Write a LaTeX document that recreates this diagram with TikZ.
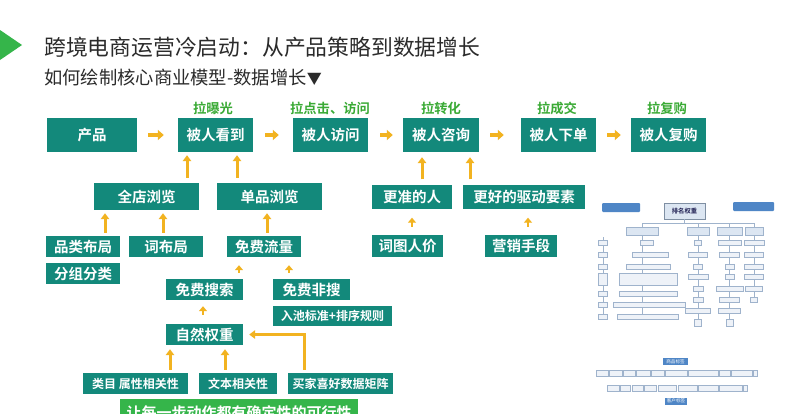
\documentclass[tikz,border=0pt]{standalone}
\usepackage{fontspec}
\setmainfont{Noto Sans CJK SC}[BoldFont={Noto Sans CJK SC Bold}]
\usetikzlibrary{arrows.meta,calc}
\definecolor{tealbox}{HTML}{13897B}
\definecolor{arrowc}{HTML}{F2B320}
\definecolor{lblgreen}{HTML}{3AAA35}
\definecolor{brightgreen}{HTML}{35B54A}
\definecolor{titlec}{HTML}{2B2B2B}
\definecolor{thblue}{HTML}{4F86C6}
\definecolor{thline}{HTML}{9FB3CC}
\definecolor{thfill}{HTML}{EEF2F8}
\definecolor{thhead}{HTML}{DCE6F2}
\tikzset{
  box/.style={fill=tealbox, text=white, inner sep=0pt, font=\bfseries\fontsize{14.5}{16}\selectfont},
  sbox/.style={fill=tealbox, text=white, inner sep=0pt, font=\bfseries\fontsize{12}{14}\selectfont},
  lbl/.style={text=lblgreen, inner sep=0pt, font=\bfseries\fontsize{13.3}{15}\selectfont},
  harrow/.style={draw=arrowc, line width=4pt, -{Triangle[length=6pt,width=10pt]}},
  varrow/.style={draw=arrowc, line width=3pt, -{Triangle[length=6pt,width=8.5pt]}},
  smarrow/.style={draw=arrowc, line width=2.8pt, -{Triangle[length=5pt,width=8pt]}},
  thb/.style={draw=thline, fill=thfill, line width=0.4pt},
  thbl/.style={fill=thblue, rounded corners=1pt},
}
\begin{document}
\begin{tikzpicture}[x=1pt,y=-1pt]
\useasboundingbox (0,0) rectangle (800,413);
\clip (0,0) rectangle (800,413);
\fill[white] (0,0) rectangle (800,413);

% title
\fill[brightgreen] (0,30) -- (22,45) -- (0,60) -- cycle;
\node[anchor=west, inner sep=0pt, text=titlec, font=\fontsize{21.8}{24}\selectfont] (title) at (44,47) {跨境电商运营冷启动：从产品策略到数据增长};
\node[anchor=west, inner sep=0pt, text=titlec, font=\fontsize{18.3}{20}\selectfont] (sub) at (44,78) {如何绘制核心商业模型-数据增长{\fontsize{15}{16}\selectfont▼}};

% top row
\node[box, minimum width=90pt, minimum height=34pt] (cp) at (92,135) {产品};
\node[box, minimum width=75pt, minimum height=34pt] (kd) at (215.5,135) {被人看到};
\node[box, minimum width=75pt, minimum height=34pt] (fw) at (330.5,135) {被人访问};
\node[box, minimum width=76pt, minimum height=34pt] (zx) at (441,135) {被人咨询};
\node[box, minimum width=75pt, minimum height=34pt] (xd) at (558.5,135) {被人下单};
\node[box, minimum width=75pt, minimum height=34pt] (fg) at (668.5,135) {被人复购};

\node[lbl] (l1) at (213,108) {拉曝光};
\node[lbl] (l2) at (330,108) {拉点击、访问};
\node[lbl] (l3) at (441,108) {拉转化};
\node[lbl] (l4) at (557,108) {拉成交};
\node[lbl] (l5) at (667,108) {拉复购};

\draw[harrow, shorten <=11pt, shorten >=14pt] (cp) -- (kd);
\draw[harrow, shorten <=12pt, shorten >=14pt] (kd) -- (fw);
\draw[harrow, shorten <=12pt, shorten >=10pt] (fw) -- (zx);
\draw[harrow, shorten <=11pt, shorten >=17pt] (zx) -- (xd);
\draw[harrow, shorten <=11pt, shorten >=10pt] (xd) -- (fg);

% second row
\node[box, minimum width=105pt, minimum height=27pt] (qd) at (146.5,196.5) {全店浏览};
\node[box, minimum width=105pt, minimum height=27pt] (dp) at (269.5,196.5) {单品浏览};
\node[box, minimum width=80pt, minimum height=24pt] (gz) at (412,196.5) {更准的人};
\node[box, minimum width=122pt, minimum height=24pt] (gh) at (524,196.5) {更好的驱动要素};

\draw[varrow, shorten <=5pt, shorten >=3pt] ([xshift=40.5pt]qd.north) -- ([xshift=40.5pt]qd.north |- kd.south);
\draw[varrow, shorten <=5pt, shorten >=3pt] ([xshift=-32.5pt]dp.north) -- ([xshift=-32.5pt]dp.north |- kd.south);
\draw[varrow, shorten <=5pt, shorten >=5pt] ([xshift=10pt]gz.north) -- ([xshift=10pt]gz.north |- zx.south);
\draw[varrow, shorten <=5pt, shorten >=5pt] ([xshift=-54pt]gh.north) -- ([xshift=-54pt]gh.north |- zx.south);

% third row
\node[box, minimum width=74pt, minimum height=21pt] (pl) at (83,246.5) {品类布局};
\node[box, minimum width=74pt, minimum height=21pt] (cb) at (166,246.5) {词布局};
\node[box, minimum width=74pt, minimum height=21pt] (fz) at (83,273.5) {分组分类};
\node[box, minimum width=74pt, minimum height=21pt] (mf) at (264,246.5) {免费流量};
\node[box, minimum width=71pt, minimum height=22pt] (ct) at (407.5,246) {词图人价};
\node[box, minimum width=72pt, minimum height=22pt] (yx) at (521,246) {营销手段};

\draw[varrow, shorten <=3pt, shorten >=3pt] ([xshift=22pt]pl.north) -- ([xshift=22pt]pl.north |- qd.south);
\draw[varrow, shorten <=3pt, shorten >=3pt] ([xshift=-3pt]cb.north) -- ([xshift=-3pt]cb.north |- qd.south);
\draw[varrow, shorten <=3pt, shorten >=3pt] ([xshift=3pt]mf.north) -- ([xshift=3pt]mf.north |- dp.south);
\draw[smarrow, shorten <=8pt, shorten >=9pt] ([xshift=4.5pt]ct.north) -- ([xshift=4.5pt]ct.north |- gz.south);
\draw[smarrow, shorten <=8pt, shorten >=9pt] ([xshift=7pt]yx.north) -- ([xshift=7pt]yx.north |- gh.south);

% fourth row
\node[box, minimum width=77pt, minimum height=21pt] (ms) at (204.5,289.5) {免费搜索};
\node[box, minimum width=77pt, minimum height=21pt] (mn) at (311.5,289.5) {免费非搜};
\node[sbox, minimum width=119pt, minimum height=20pt] (rc) at (332.5,316) {入池标准+排序规则};
\node[box, minimum width=77pt, minimum height=21pt] (zr) at (204.5,334.5) {自然权重};

\draw[smarrow, shorten <=6pt, shorten >=8pt] ([xshift=34.5pt]ms.north) -- ([xshift=34.5pt]ms.north |- mf.south);
\draw[smarrow, shorten <=6pt, shorten >=8pt] ([xshift=-22.5pt]mn.north) -- ([xshift=-22.5pt]mn.north |- mf.south);
\draw[smarrow, shorten <=9pt, shorten >=6pt] ([xshift=-1.5pt]zr.north) -- ([xshift=-1.5pt]zr.north |- ms.south);

% bottom row
\node[sbox, minimum width=105pt, minimum height=21pt] (lm) at (135.5,383.5) {类目 属性相关性};
\node[sbox, minimum width=78pt, minimum height=21pt] (wb) at (238,383.5) {文本相关性};
\node[sbox, minimum width=105pt, minimum height=21pt] (mj) at (340.5,383.5) {买家喜好数据矩阵};

\draw[varrow, shorten <=3pt, shorten >=4pt] ([xshift=34.5pt]lm.north) -- ([xshift=34.5pt]lm.north |- zr.south);
\draw[varrow, shorten <=3pt, shorten >=4pt] ([xshift=-13pt]wb.north) -- ([xshift=-13pt]wb.north |- zr.south);
\draw[varrow, shorten <=3pt, shorten >=6pt] ([xshift=-36.5pt]mj.north) |- (zr.east);

\node[fill=brightgreen, text=white, inner sep=0pt, minimum width=238pt, minimum height=28pt, font=\bfseries\fontsize{15}{17}\selectfont] (goal) at (239,413) {让每一步动作都有确定性的可行性};

% ---------- thumbnail 1: ranking weight tree ----------
\fill[thbl] (602,203) rectangle (640,212);
\fill[thbl] (733,202) rectangle (774,211);
\node[draw=thline!80!black, fill=thhead, line width=0.6pt, inner sep=0pt, minimum width=41pt, minimum height=16pt, text=titlec!80!blue, font=\bfseries\fontsize{6.3}{7}\selectfont] (rank) at (684.5,211) {排名权重};
\node[thb, fill=thhead, inner sep=0pt, minimum width=32pt, minimum height=8pt] (h1) at (642,231) {};
\node[thb, fill=thhead, inner sep=0pt, minimum width=22pt, minimum height=8pt] (h2) at (698,231) {};
\node[thb, fill=thhead, inner sep=0pt, minimum width=25pt, minimum height=8pt] (h3) at (729.5,231) {};
\node[thb, fill=thhead, inner sep=0pt, minimum width=18pt, minimum height=8pt] (h4) at (754,231) {};
\begin{scope}[draw=thline, line width=0.4pt]
\draw (rank.south) -- (684.5,223);
\draw (h1.north) -- (642,223) -- (754,223) -- (h4.north);
\draw (h2.north) -- (698,223);
\draw (h3.north) -- (729.5,223);
\draw (h1.south) -- (642,317);
\draw (603,237) -- (603,317);
\draw (h2.south) -- (698,323);
\draw (h3.south) -- (729.5,323);
\draw (h4.south) -- (754,300);
\end{scope}
% column 1 left
\foreach \y in {243,255,267,294,305,317} {\draw[thb] (598,\y-2.5) rectangle (607,\y+2.5);}
\draw[thb] (598,273) rectangle (607,285);
% column 1 center
\draw[thb] (640,240.5) rectangle (653,245.5);
\draw[thb] (632,252.5) rectangle (668,257.5);
\draw[thb] (626,264.5) rectangle (670,269.5);
\draw[thb] (619,273) rectangle (677,285);
\draw[thb] (619,291.5) rectangle (677,296.5);
\draw[thb] (613,302.5) rectangle (685,307.5);
\draw[thb] (617,314.5) rectangle (678,319.5);
% column 2
\foreach \y/\w in {243/7,255/19,267/9,277/20,289/10,300/10,311/25} {\draw[thb] (698-\w/2,\y-2.5) rectangle (698+\w/2,\y+2.5);}
\draw[thb] (694.5,319.5) rectangle (701.5,326.5);
% column 3
\foreach \y/\w in {243/23,255/20,267/9,277/9,289/27,300/20,311/22} {\draw[thb] (729.5-\w/2,\y-2.5) rectangle (729.5+\w/2,\y+2.5);}
\draw[thb] (726,319.5) rectangle (733,326.5);
% column 4
\foreach \y/\w in {243/20,255/19,267/19,277/19,289/17,300/7} {\draw[thb] (754-\w/2,\y-2.5) rectangle (754+\w/2,\y+2.5);}

% ---------- thumbnail 2: tags ----------
\node[fill=thblue, text=white, inner sep=0pt, minimum width=25pt, minimum height=7.5pt, font=\fontsize{4.6}{5}\selectfont] (sptag) at (675.5,361.5) {商品标签};
\foreach \a/\b in {596/608,609/622,623/635,636/650,651/664,665/687,688/718,719/730,731/752,753/757} {\draw[thb] (\a,370.5) rectangle (\b,376.5);}
\foreach \a/\b in {607/619,620/630,632/643,644/656,658/676,678/697,698/718,719/742,743/747} {\draw[thb] (\a,385.5) rectangle (\b,391.5);}
\node[fill=thblue, text=white, inner sep=0pt, minimum width=22pt, minimum height=7pt, font=\fontsize{4.6}{5}\selectfont] (khtag) at (676,401) {客户标签};
\end{tikzpicture}
\end{document}
